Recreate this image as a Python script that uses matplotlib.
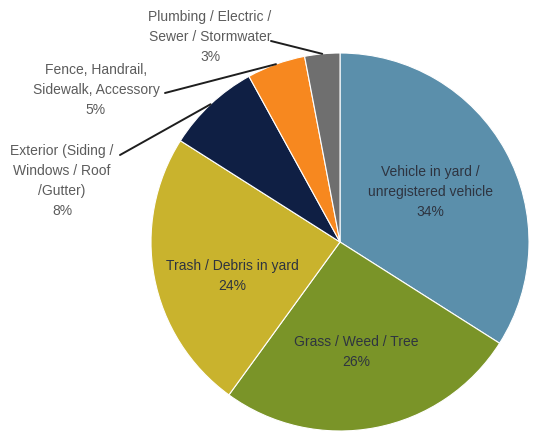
import numpy as np
import matplotlib.pyplot as plt

# data
categories = ["Vehicle in yard /\nunregistered vehicle", "Grass / Weed / Tree",
              "Trash / Debris in yard", "Exterior (Siding /\nWindows / Roof\n/Gutter)",
              "Fence, Handrail,\nSidewalk, Accessory", "Plumbing / Electric /\nSewer / Stormwater"]
shares = [34, 26, 24, 8, 5, 3]
colors = ["#5b8fab", "#7a9428", "#c9b32d", "#0f1f44", "#f7881f", "#6f6f6f"]

W, H = 533, 435
cx, cy, rad = 340, H - 243, 189

fig = plt.figure(figsize=(W / 100, H / 100), dpi=100)
ax = fig.add_axes([0, 0, 1, 1])

wedges, _ = ax.pie(shares, colors=colors, startangle=90, counterclock=False,
                   center=(cx, cy), radius=rad,
                   wedgeprops=dict(edgecolor="white", linewidth=0.8))
ax.set_xlim(0, W)
ax.set_ylim(0, H)
ax.set_aspect("auto")
ax.axis("off")

font = dict(family="Liberation Sans", fontsize=10, linespacing=1.55,
            ha="center", va="center")

# labels inside the big slices (pixel coords, y down)
inside_pos = {0: (430, 192), 1: (356, 352), 2: (232, 276)}
for i, (px, py) in inside_pos.items():
    ax.text(px, H - py, f"{categories[i]}\n{shares[i]}%", color="#2e3440", **font)

# labels outside the small slices, with leader lines
outside = {5: ((210, 37), (271, 42)),
           4: ((96, 90), (165, 94)),
           3: ((62, 181), (120, 156))}
for i, ((tx, ty), (lx, ly)) in outside.items():
    w = wedges[i]
    mid = np.deg2rad((w.theta1 + w.theta2) / 2)
    ex, ey = cx + rad * np.cos(mid), cy + rad * np.sin(mid)
    ax.text(tx, H - ty, f"{categories[i]}\n{shares[i]}%", color="#5c5c5c", **font)
    ax.annotate("", xy=(ex, ey), xytext=(lx, H - ly),
                arrowprops=dict(arrowstyle="-", color="#1e1e1e", lw=1.4,
                                shrinkA=0, shrinkB=0))

fig.savefig("out.png", dpi=100)
